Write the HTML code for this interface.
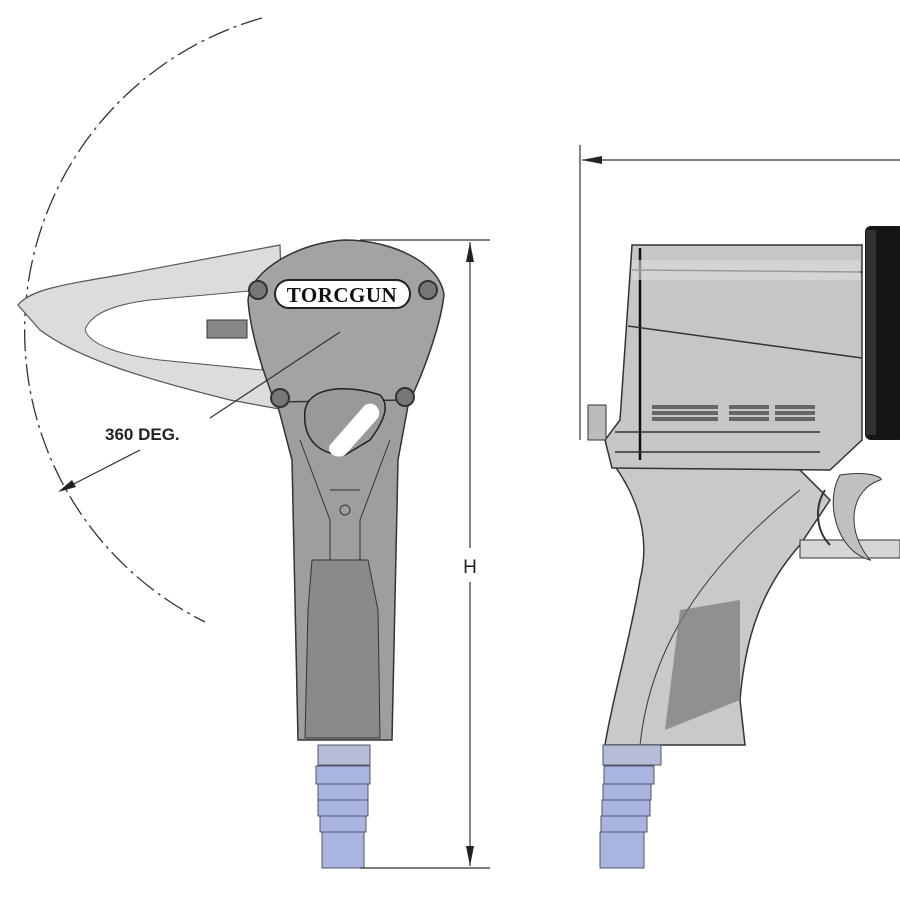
<!DOCTYPE html>
<html><head><style>body{margin:0;background:#fff}svg{display:block}</style></head><body>
<svg width="900" height="900" viewBox="0 0 900 900" xmlns="http://www.w3.org/2000/svg">
<rect width="900" height="900" fill="#fff"/>
<!-- arc -->
<path d="M262,18 A325,325 0 0 0 205,622" fill="none" stroke="#333" stroke-width="1.3" stroke-dasharray="22,5,3,5"/>
<!-- left arm -->
<path d="M18,305 C30,290 60,285 120,275 L280,245 L285,410 L230,400 C150,380 80,360 40,330 Z" fill="#dcdcdc" stroke="#555" stroke-width="1.2"/>
<path d="M85,330 C90,315 110,305 150,300 L260,290 L262,370 L160,360 C120,355 90,345 85,330 Z" fill="#fff" stroke="#555"/>
<rect x="207" y="320" width="40" height="18" fill="#888" stroke="#333"/>
<!-- handle -->
<path d="M275,395 L410,395 L398,460 L392,740 L298,740 L292,460 Z" fill="#9e9e9e" stroke="#333" stroke-width="1.5"/>
<path d="M312,560 L368,560 L378,610 L380,738 L305,738 L308,610 Z" fill="#8a8a8a" stroke="#333"/>
<path d="M300,440 L330,520 L330,560 M390,440 L360,520 L360,560 M330,490 L360,490" fill="none" stroke="#333"/>
<circle cx="345" cy="510" r="5" fill="none" stroke="#333"/>
<!-- head -->
<path d="M248,300 C250,270 300,242 345,240 C390,240 440,262 444,295 C440,330 420,380 410,400 L275,402 C262,370 250,330 248,300 Z" fill="#a3a3a3" stroke="#333" stroke-width="1.5"/>
<rect x="275" y="280" width="135" height="28" rx="14" fill="#fff" stroke="#222" stroke-width="2"/>
<text x="342" y="302" text-anchor="middle" font-family="Liberation Serif,serif" font-weight="bold" font-size="21" fill="#111" letter-spacing="0.5">TORCGUN</text>
<g fill="#777" stroke="#333" stroke-width="2"><circle cx="258" cy="290" r="9"/><circle cx="428" cy="290" r="9"/><circle cx="280" cy="398" r="9"/><circle cx="405" cy="397" r="9"/></g>
<path d="M305,410 C310,385 350,385 380,395 C390,405 385,420 370,440 L345,455 C320,455 302,440 305,410 Z" fill="#999" stroke="#222" stroke-width="1.5"/>
<path d="M330,445 L365,405 C375,400 382,410 378,418 L345,455 C335,460 326,452 330,445 Z" fill="#fff"/>
<!-- coupling left -->
<rect x="318" y="745" width="52" height="20" fill="#b5bdd8" stroke="#556"/>
<g fill="#aab4e0" stroke="#556"><rect x="316" y="766" width="54" height="18"/><rect x="318" y="784" width="50" height="16"/><rect x="318" y="800" width="50" height="16"/><rect x="320" y="816" width="46" height="16"/><rect x="322" y="832" width="42" height="36"/></g>
<!-- H dimension -->
<g stroke="#333" stroke-width="1.2"><line x1="360" y1="240" x2="490" y2="240"/><line x1="360" y1="868" x2="490" y2="868"/><line x1="470" y1="242" x2="470" y2="548"/><line x1="470" y1="582" x2="470" y2="866"/></g>
<path d="M470,242 l-4,20 h8 Z M470,866 l-4,-20 h8 Z" fill="#222"/>
<text x="470" y="573" text-anchor="middle" font-family="Liberation Sans,sans-serif" font-size="19" fill="#222">H</text>
<!-- 360 DEG -->
<text x="105" y="440" font-family="Liberation Sans,sans-serif" font-weight="bold" font-size="17" fill="#222">360 DEG.</text>
<line x1="210" y1="418" x2="340" y2="332" stroke="#333" stroke-width="1.2"/>
<line x1="140" y1="450" x2="62" y2="490" stroke="#333" stroke-width="1.2"/>
<path d="M58,492 l14,-12 l4,7 Z" fill="#222"/>
<!-- right tool dimension -->
<g stroke="#333" stroke-width="1.2"><line x1="580" y1="145" x2="580" y2="440"/><line x1="582" y1="160" x2="900" y2="160"/></g>
<path d="M582,160 l20,-4 v8 Z" fill="#222"/>
<!-- right grip -->
<path d="M612,462 C640,500 650,540 640,580 C630,640 612,700 605,745 L745,745 L740,700 C745,640 760,590 800,545 L830,500 L800,470 Z" fill="#c9c9c9" stroke="#333" stroke-width="1.5"/>
<path d="M640,745 C650,650 700,570 800,490" fill="none" stroke="#333"/>
<path d="M665,730 L740,700 L740,600 L680,610 Z" fill="#777" opacity="0.7"/>
<!-- trigger & bar -->
<rect x="800" y="540" width="100" height="18" fill="#d5d5d5" stroke="#333"/>
<path d="M840,475 C875,470 885,480 880,480 C850,490 845,530 870,560 C835,550 825,500 840,475 Z" fill="#c0c0c0" stroke="#333"/>
<path d="M825,490 C815,505 815,530 830,545" fill="none" stroke="#333" stroke-width="2"/>
<!-- right body -->
<path d="M632,245 L862,245 L862,440 L830,470 L612,468 L605,440 L620,420 Z" fill="#c6c6c6" stroke="#333" stroke-width="1.5"/>
<path d="M640,248 L640,460" stroke="#111" stroke-width="2.5"/>
<line x1="632" y1="270" x2="862" y2="272" stroke="#333" stroke-width="1.5"/>
<line x1="628" y1="326" x2="862" y2="358" stroke="#333" stroke-width="1.5"/>
<line x1="615" y1="432" x2="820" y2="432" stroke="#333" stroke-width="1.5"/>
<line x1="615" y1="452" x2="820" y2="452" stroke="#333" stroke-width="1.5"/>
<rect x="632" y="260" width="228" height="20" fill="#ddd" opacity="0.6"/>
<g fill="#666"><rect x="652" y="405" width="66" height="4"/><rect x="652" y="411" width="66" height="4"/><rect x="652" y="417" width="66" height="4"/><rect x="729" y="405" width="40" height="4"/><rect x="729" y="411" width="40" height="4"/><rect x="729" y="417" width="40" height="4"/><rect x="775" y="405" width="40" height="4"/><rect x="775" y="411" width="40" height="4"/><rect x="775" y="417" width="40" height="4"/></g>
<rect x="588" y="405" width="18" height="35" fill="#bbb" stroke="#333"/>
<!-- motor -->
<rect x="865" y="226" width="40" height="214" rx="6" fill="#151515"/>
<rect x="866" y="230" width="10" height="205" fill="#444" opacity="0.6"/>
<!-- coupling right -->
<rect x="603" y="745" width="58" height="20" fill="#b5bdd8" stroke="#556"/>
<g fill="#aab4e0" stroke="#556"><rect x="604" y="766" width="50" height="18"/><rect x="603" y="784" width="48" height="16"/><rect x="602" y="800" width="48" height="16"/><rect x="601" y="816" width="46" height="16"/><rect x="600" y="832" width="44" height="36"/></g>
</svg>
</body></html>
